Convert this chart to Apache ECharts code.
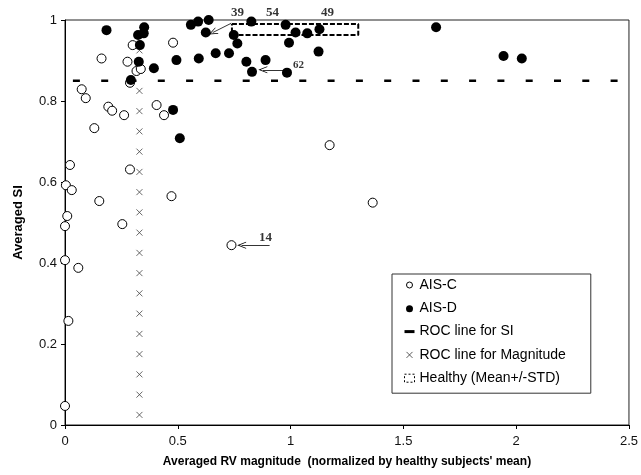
<!DOCTYPE html>
<html>
<head>
<meta charset="utf-8">
<script src="https://cdn.jsdelivr.net/npm/echarts@6/dist/echarts.min.js"></script>
<style>
  html, body { margin: 0; padding: 0; background: #fff; }
  #chart { width: 641px; height: 475px; }
</style>
</head>
<body>
<div id="chart"></div>
<script>
// AIS-C subjects (open circles): [RV magnitude, SI]
var aisC = [
  [0.300, 0.938], [0.162, 0.905], [0.277, 0.897], [0.317, 0.874], [0.336, 0.879],
  [0.288, 0.845], [0.074, 0.829], [0.092, 0.807], [0.479, 0.944], [0.192, 0.786],
  [0.209, 0.776], [0.262, 0.765], [0.130, 0.733], [0.406, 0.790], [0.439, 0.765],
  [0.022, 0.642], [0.288, 0.631], [0.004, 0.592], [0.030, 0.580], [0.152, 0.553],
  [0.472, 0.565], [0.010, 0.516], [0.000, 0.491], [0.254, 0.496], [0.000, 0.407],
  [0.059, 0.388], [0.015, 0.257], [0.000, 0.047], [1.173, 0.691], [1.364, 0.549],
  [0.738, 0.444]
];
// AIS-D subjects (filled circles)
var aisD = [
  [0.184, 0.975], [0.351, 0.982], [0.324, 0.963], [0.349, 0.967], [0.332, 0.938],
  [0.327, 0.897], [0.394, 0.881], [0.292, 0.852], [0.494, 0.901], [0.479, 0.778],
  [0.509, 0.708], [0.558, 0.988], [0.590, 0.996], [0.637, 1.000], [0.624, 0.969],
  [0.593, 0.905], [0.668, 0.918], [0.727, 0.918], [0.748, 0.963], [0.764, 0.942],
  [0.804, 0.897], [0.826, 0.996], [0.829, 0.872], [0.889, 0.901], [0.978, 0.988],
  [1.022, 0.969], [1.074, 0.967], [1.128, 0.977], [0.993, 0.944], [1.124, 0.922],
  [0.984, 0.870], [1.645, 0.982], [1.944, 0.911], [2.025, 0.905]
];
// ROC cut-offs
var rocSI = [[0.035, 0.85], [2.46, 0.85]];
var rocMagX = 0.33;
var rocMagY = [0.025, 0.075, 0.125, 0.175, 0.225, 0.275, 0.325, 0.375, 0.425, 0.475,
  0.525, 0.575, 0.625, 0.675, 0.725, 0.775, 0.825, 0.875, 0.925];
// healthy subjects box (mean +/- std)
var healthyX = [0.74, 1.30];
var healthyY = [0.963, 0.990];
// subject id notes: [text x, text y, label, arrow from x, from y, to x, to y, font size]
var notes = [
  [0.765, 1.017, '39', 0.737, 0.992, 0.655, 0.969, 13],
  [0.920, 1.017, '54', 0.894, 1.007, 0.783, 0.968, 13],
  [1.164, 1.017, '49', 1.136, 1.004, 1.040, 0.979, 13],
  [1.035, 0.889, '62', 0.981, 0.877, 0.877, 0.877, 11],
  [0.889, 0.462, '14', 0.907, 0.444, 0.783, 0.444, 13]
];

var xTicks = [0, 0.5, 1, 1.5, 2, 2.5];
var yTicks = [0, 0.2, 0.4, 0.6, 0.8, 1];

var FONT = '"Liberation Sans", Arial, sans-serif';
var crossPath = 'path://M0,0L10,10M10,0L0,10';
var dashPath = 'path://M0,0M0,3.5h10v3h-10zM10,10';

var chart = echarts.init(document.getElementById('chart'));

var option = {
  animation: false,
  backgroundColor: '#fff',
  textStyle: { fontFamily: FONT },
  grid: {
    left: 65, right: 11, top: 20, bottom: 50,
    show: true, borderColor: '#222', borderWidth: 1, backgroundColor: 'transparent'
  },
  legend: {
    orient: 'vertical',
    left: 392, top: 274,
    width: 193,
    padding: [4, 25, 8, 12],
    itemWidth: 10, itemHeight: 10,
    itemGap: 9.3,
    borderColor: '#333', borderWidth: 1,
    backgroundColor: '#fff',
    textStyle: { fontSize: 14, color: '#000', fontFamily: FONT },
    data: [
      { name: 'AIS-C', icon: 'path://M0,0M2,5a3,3 0 1,0 6,0a3,3 0 1,0 -6,0zM10,10',
        itemStyle: { color: '#fff', borderColor: '#000', borderWidth: 1 } },
      { name: 'AIS-D', icon: 'path://M0,0M1.5,5.5a3.5,3.5 0 1,0 7,0a3.5,3.5 0 1,0 -7,0zM10,10',
        itemStyle: { color: '#000', borderWidth: 0 } },
      { name: 'ROC line for SI', icon: dashPath,
        itemStyle: { color: '#000', borderWidth: 0 } },
      { name: 'ROC line for Magnitude', icon: 'path://M0,0M2,2L8,8M8,2L2,8M10,10',
        itemStyle: { color: 'transparent', borderColor: '#333', borderWidth: 1 } },
      { name: 'Healthy (Mean+/-STD)', icon: 'path://M0,1h10v8h-10z',
        itemStyle: { color: '#fff', borderColor: '#000', borderWidth: 1, borderType: [2, 2] } }
    ]
  },
  xAxis: {
    type: 'value',
    min: xTicks[0], max: xTicks[xTicks.length - 1], interval: 0.5,
    name: "Averaged RV magnitude  (normalized by healthy subjects' mean)",
    nameLocation: 'middle', nameGap: 31,
    nameTextStyle: { fontSize: 12, fontWeight: 'bold', color: '#000', fontFamily: FONT },
    axisLine: { show: true, onZero: false, lineStyle: { color: '#000', width: 1 } },
    axisTick: { show: true, inside: false, length: 4, lineStyle: { color: '#000' } },
    axisLabel: { fontSize: 13, color: '#111', margin: 10, fontFamily: FONT },
    splitLine: { show: false }
  },
  yAxis: {
    type: 'value',
    min: yTicks[0], max: yTicks[yTicks.length - 1], interval: 0.2,
    name: 'Averaged SI',
    nameLocation: 'middle', nameGap: 40,
    nameTextStyle: { fontSize: 13, fontWeight: 'bold', color: '#000', fontFamily: FONT },
    axisLine: { show: true, onZero: false, lineStyle: { color: '#000', width: 1 } },
    axisTick: { show: true, inside: false, length: 4, lineStyle: { color: '#000' } },
    axisLabel: { fontSize: 13, color: '#111', margin: 8, fontFamily: FONT },
    splitLine: { show: false }
  },
  series: [
    {
      name: 'ROC line for SI',
      type: 'line',
      data: rocSI,
      symbol: 'none',
      lineStyle: { color: '#000', width: 2.5, type: [7, 21.3] },
      z: 1
    },
    {
      name: 'ROC line for Magnitude',
      type: 'scatter',
      data: rocMagY.map(function (y) { return [rocMagX, y]; }),
      symbol: crossPath,
      symbolSize: 6,
      itemStyle: { color: 'transparent', borderColor: '#444', borderWidth: 1 },
      z: 2
    },
    {
      name: 'Healthy (Mean+/-STD)',
      type: 'line',
      data: [
        [healthyX[0], healthyY[1]], [healthyX[1], healthyY[1]],
        [healthyX[1], healthyY[0]], [healthyX[0], healthyY[0]],
        [healthyX[0], healthyY[1]]
      ],
      symbol: 'none',
      lineStyle: { color: '#000', width: 2, type: [5, 2] },
      z: 2
    },
    {
      name: 'AIS-C',
      type: 'scatter',
      data: aisC,
      symbol: 'circle',
      symbolSize: 9,
      itemStyle: { color: '#fff', borderColor: '#000', borderWidth: 1, opacity: 1 },
      z: 3
    },
    {
      name: 'AIS-D',
      type: 'scatter',
      data: aisD,
      symbol: 'circle',
      symbolSize: 10,
      itemStyle: { color: '#000', opacity: 1 },
      z: 4
    },
    {
      name: 'notes',
      type: 'scatter',
      clip: false,
      silent: true,
      data: notes.map(function (n) {
        return { value: [n[0], n[1], n[2]], label: { fontSize: n[7] } };
      }),
      symbolSize: 1,
      itemStyle: { color: 'transparent' },
      label: {
        show: true,
        position: 'inside',
        formatter: function (p) { return p.value[2]; },
        fontFamily: '"Liberation Serif", "Times New Roman", serif',
        fontWeight: 'bold',
        fontSize: 13,
        color: '#000'
      },
      markLine: {
        silent: true,
        animation: false,
        symbol: ['none', 'path://M0,10L5,0L10,10L9,10L5,2.5L1,10Z'],
        symbolSize: [7, 9],
        label: { show: false },
        lineStyle: { color: '#000', width: 0.8, type: 'solid' },
        data: notes.map(function (n) {
          return [{ coord: [n[3], n[4]] }, { coord: [n[5], n[6]] }];
        })
      },
      z: 5
    }
  ]
};

chart.setOption(option);
</script>
</body>
</html>
